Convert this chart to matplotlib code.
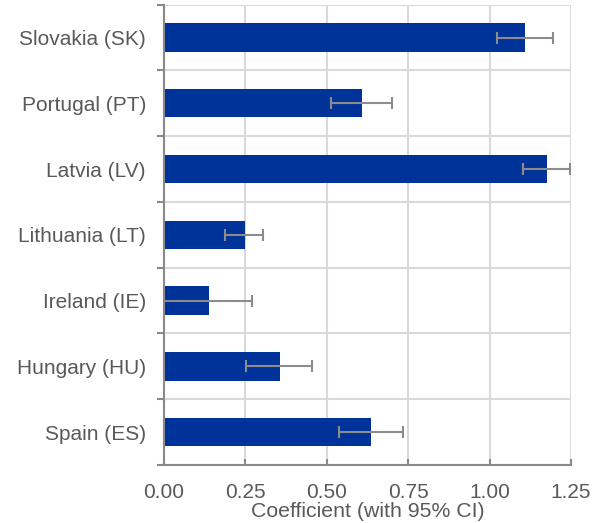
import numpy as np
import matplotlib.pyplot as plt

plt.rcParams['font.family'] = ['Liberation Sans', 'DejaVu Sans']

# Country coefficients with 95% confidence bounds (bottom to top)
countries = ["Spain (ES)", "Hungary (HU)", "Ireland (IE)", "Lithuania (LT)",
             "Latvia (LV)", "Portugal (PT)", "Slovakia (SK)"]
coef = [0.637, 0.355, 0.137, 0.248, 1.176, 0.609, 1.110]
ci_low = [0.537, 0.253, 0.0, 0.186, 1.101, 0.513, 1.022]
ci_high = [0.735, 0.454, 0.270, 0.304, 1.246, 0.701, 1.194]

text_col = "#595959"
axis_col = "#898989"
grid_col = "#d9d9d9"

fig = plt.figure(figsize=(5.95, 5.23), dpi=100)
ax = fig.add_axes([0.2756, 0.1109, 0.6841, 0.8801])

y = np.arange(len(countries))
err = [np.array(coef) - np.array(ci_low), np.array(ci_high) - np.array(coef)]

ax.barh(y, coef, height=0.43, color="#003399", zorder=2)
ax.errorbar(coef, y, xerr=err, fmt="none", ecolor="#8c8c8c",
            elinewidth=1.5, capsize=4, capthick=1.5, zorder=3)

ax.set_xlim(0, 1.25)
ax.set_ylim(-0.5, len(countries) - 0.5)
ax.set_xticks([0, 0.25, 0.5, 0.75, 1.0, 1.25])
ax.set_xticklabels(["0.00", "0.25", "0.50", "0.75", "1.00", "1.25"])
ax.set_yticks(y)
ax.set_yticklabels(countries)
ax.set_yticks(np.arange(len(countries) + 1) - 0.5, minor=True)

ax.grid(axis="x", which="major", color=grid_col, linewidth=1.5, zorder=0)
ax.grid(axis="y", which="minor", color=grid_col, linewidth=1.5, zorder=0)
ax.set_axisbelow(True)

for side in ["top", "right"]:
    ax.spines[side].set_visible(False)
for side in ["left", "bottom"]:
    ax.spines[side].set_color(axis_col)
    ax.spines[side].set_linewidth(1.5)
    ax.spines[side].set_zorder(4)

ax.tick_params(axis="y", which="major", length=0, pad=13, labelsize=15,
               labelcolor=text_col)
ax.tick_params(axis="y", which="minor", length=5, width=1.5, color=axis_col,
               direction="out")
ax.tick_params(axis="x", which="major", length=4, width=1.5, color=axis_col,
               direction="in", pad=13, labelsize=15, labelcolor=text_col)

ax.set_xlabel("Coefficient (with 95% CI)", fontsize=15.3, color=text_col,
              labelpad=0)

fig.savefig("out.png", dpi=100)
